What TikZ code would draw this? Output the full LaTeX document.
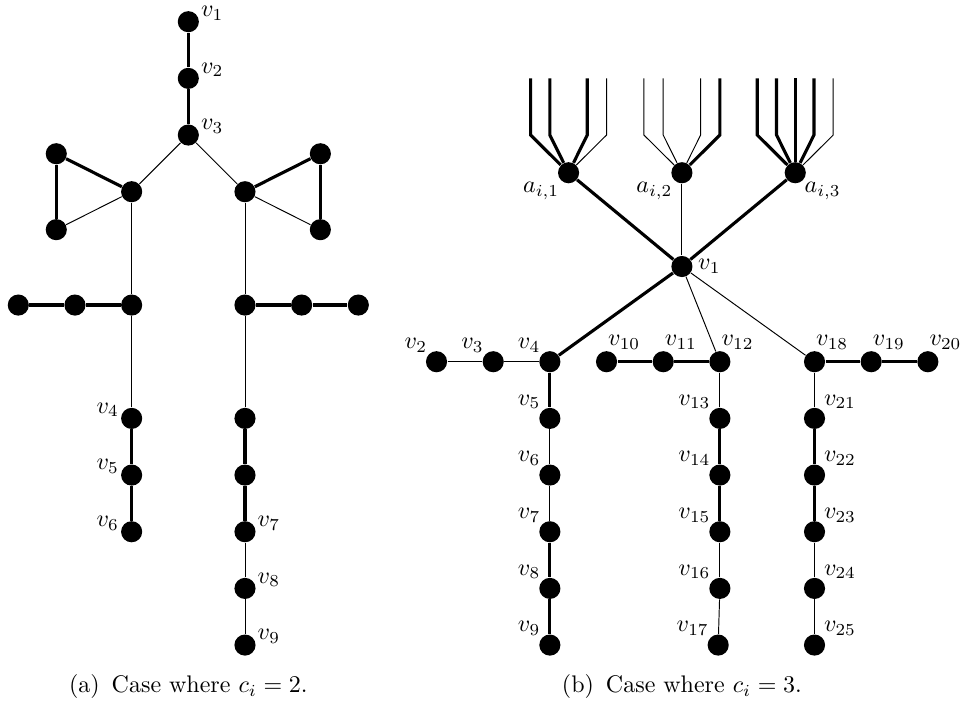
\documentclass[tikz,border=0pt]{standalone}
\usepackage{amsmath}
\usepackage{tikz}
\tikzset{
  vtx/.style={circle,fill=black,inner sep=0pt,minimum size=8.8pt},
  thk/.style={line width=1.3pt},
  thn/.style={line width=0.4pt},
  every label/.style={inner sep=0.5pt},
}

\begin{document}
\begin{tikzpicture}[x=0.83cm,y=0.83cm]
\useasboundingbox (-0.323,0.383) rectangle (16.635,-12.11);
% (a)
\node[vtx,label={[anchor=south west]east:$v_1$}] (av1) at (3,0) {};
\node[vtx,label={[anchor=south west]east:$v_2$}] (av2) at (3,-1) {};
\node[vtx,label={[anchor=south west]east:$v_3$}] (av3) at (3,-2) {};
\node[vtx] (acl) at (2,-3) {};
\node[vtx] (acr) at (4,-3) {};
\node[vtx] (atl1) at (0.67,-2.33) {};
\node[vtx] (atl2) at (0.67,-3.67) {};
\node[vtx] (atr1) at (5.33,-2.33) {};
\node[vtx] (atr2) at (5.33,-3.67) {};
\node[vtx] (ahl1) at (0,-5) {};
\node[vtx] (ahl2) at (1,-5) {};
\node[vtx] (ahl3) at (2,-5) {};
\node[vtx] (ahr1) at (4,-5) {};
\node[vtx] (ahr2) at (5,-5) {};
\node[vtx] (ahr3) at (6,-5) {};
\node[vtx,label={[anchor=south east]west:$v_4$}] (av4) at (2,-7) {};
\node[vtx,label={[anchor=south east]west:$v_5$}] (av5) at (2,-8) {};
\node[vtx,label={[anchor=south east]west:$v_6$}] (av6) at (2,-9) {};
\node[vtx] (akr1) at (4,-7) {};
\node[vtx] (akr2) at (4,-8) {};
\node[vtx,label={[anchor=south west]east:$v_7$}] (av7) at (4,-9) {};
\node[vtx,label={[anchor=south west]east:$v_8$}] (av8) at (4,-10) {};
\node[vtx,label={[anchor=south west]east:$v_9$}] (av9) at (4,-11) {};
\draw[thk] (av1) -- (av2);
\draw[thk] (av2) -- (av3);
\draw[thn] (av3) -- (acl);
\draw[thn] (av3) -- (acr);
\draw[thk] (acl) -- (atl1);
\draw[thk] (atl1) -- (atl2);
\draw[thn] (atl2) -- (acl);
\draw[thk] (acr) -- (atr1);
\draw[thk] (atr1) -- (atr2);
\draw[thn] (atr2) -- (acr);
\draw[thn] (acl) -- (ahl3);
\draw[thn] (acr) -- (ahr1);
\draw[thk] (ahl1) -- (ahl2);
\draw[thk] (ahl2) -- (ahl3);
\draw[thk] (ahr1) -- (ahr2);
\draw[thk] (ahr2) -- (ahr3);
\draw[thn] (ahl3) -- (av4);
\draw[thk] (av4) -- (av5);
\draw[thk] (av5) -- (av6);
\draw[thn] (ahr1) -- (akr1);
\draw[thk] (akr1) -- (akr2);
\draw[thk] (akr2) -- (av7);
\draw[thn] (av7) -- (av8);
\draw[thn] (av8) -- (av9);
\node (capa) at (3,-11.73) {(a)\enspace Case where $c_i = 2$.};

% (b)
\node[vtx,label=below left:$a_{i,1}$] (ai1) at (9.71,-2.665) {};
\node[vtx,label=below left:$a_{i,2}$] (ai2) at (11.71,-2.665) {};
\node[vtx,label=below right:$a_{i,3}$] (ai3) at (13.71,-2.665) {};
\node[vtx,label={[label distance=1.5pt]right:$v_1$}] (bv1) at (11.71,-4.32) {};
\node[vtx,label=above left:$v_2$] (bv2) at (7.38,-6) {};
\node[vtx,label=above left:$v_3$] (bv3) at (8.38,-6) {};
\node[vtx,label=above left:$v_4$] (bv4) at (9.38,-6) {};
\node[vtx,label=above left:$v_5$] (bv5) at (9.38,-7) {};
\node[vtx,label=above left:$v_6$] (bv6) at (9.38,-8) {};
\node[vtx,label=above left:$v_7$] (bv7) at (9.38,-9) {};
\node[vtx,label=above left:$v_8$] (bv8) at (9.38,-10) {};
\node[vtx,label=above left:$v_9$] (bv9) at (9.38,-11) {};
\node[vtx,label={[anchor=south west]north:$v_{10}$}] (bv10) at (10.38,-6) {};
\node[vtx,label={[anchor=south west]north:$v_{11}$}] (bv11) at (11.38,-6) {};
\node[vtx,label={[anchor=south west]north:$v_{12}$}] (bv12) at (12.38,-6) {};
\node[vtx,label=above left:$v_{13}$] (bv13) at (12.38,-7) {};
\node[vtx,label=above left:$v_{14}$] (bv14) at (12.38,-8) {};
\node[vtx,label=above left:$v_{15}$] (bv15) at (12.38,-9) {};
\node[vtx,label=above left:$v_{16}$] (bv16) at (12.38,-10) {};
\node[vtx,label=above left:$v_{17}$] (bv17) at (12.35,-11) {};
\node[vtx,label={[anchor=south west]north:$v_{18}$}] (bv18) at (14.05,-6) {};
\node[vtx,label={[anchor=south west]north:$v_{19}$}] (bv19) at (15.05,-6) {};
\node[vtx,label={[anchor=south west]north:$v_{20}$}] (bv20) at (16.05,-6) {};
\node[vtx,label=above right:$v_{21}$] (bv21) at (14.05,-7) {};
\node[vtx,label=above right:$v_{22}$] (bv22) at (14.05,-8) {};
\node[vtx,label=above right:$v_{23}$] (bv23) at (14.05,-9) {};
\node[vtx,label=above right:$v_{24}$] (bv24) at (14.05,-10) {};
\node[vtx,label=above right:$v_{25}$] (bv25) at (14.05,-11) {};
% fans above the a_{i,j}
\draw[thk] (ai1) -- ++(-0.67,0.665) -- ++(0,1);
\draw[thk] (ai1) -- ++(-0.33,0.665) -- ++(0,1);
\draw[thk] (ai1) -- ++(0.33,0.665) -- ++(0,1);
\draw[thn] (ai1) -- ++(0.67,0.665) -- ++(0,1);
\draw[thn] (ai2) -- ++(-0.67,0.665) -- ++(0,1);
\draw[thn] (ai2) -- ++(-0.33,0.665) -- ++(0,1);
\draw[thn] (ai2) -- ++(0.33,0.665) -- ++(0,1);
\draw[thk] (ai2) -- ++(0.67,0.665) -- ++(0,1);
\draw[thk] (ai3) -- ++(-0.67,0.665) -- ++(0,1);
\draw[thk] (ai3) -- ++(-0.33,0.665) -- ++(0,1);
\draw[thk] (ai3) -- ++(0,1.665);
\draw[thk] (ai3) -- ++(0.33,0.665) -- ++(0,1);
\draw[thn] (ai3) -- ++(0.67,0.665) -- ++(0,1);
\draw[thk] (ai1) -- (bv1);
\draw[thn] (ai2) -- (bv1);
\draw[thk] (ai3) -- (bv1);
\draw[thk] (bv1) -- (bv4);
\draw[thn] (bv1) -- (bv12);
\draw[thn] (bv1) -- (bv18);
\draw[thn] (bv2) -- (bv3);
\draw[thn] (bv3) -- (bv4);
\draw[thk] (bv4) -- (bv5);
\draw[thn] (bv5) -- (bv6);
\draw[thn] (bv6) -- (bv7);
\draw[thk] (bv7) -- (bv8);
\draw[thk] (bv8) -- (bv9);
\draw[thk] (bv10) -- (bv11);
\draw[thk] (bv11) -- (bv12);
\draw[thn] (bv12) -- (bv13);
\draw[thk] (bv13) -- (bv14);
\draw[thk] (bv14) -- (bv15);
\draw[thn] (bv15) -- (bv16);
\draw[thn] (bv16) -- (bv17);
\draw[thk] (bv18) -- (bv19);
\draw[thk] (bv19) -- (bv20);
\draw[thn] (bv18) -- (bv21);
\draw[thk] (bv21) -- (bv22);
\draw[thk] (bv22) -- (bv23);
\draw[thn] (bv23) -- (bv24);
\draw[thn] (bv24) -- (bv25);
\node (capb) at (11.71,-11.73) {(b)\enspace Case where $c_i = 3$.};
\end{tikzpicture}
\end{document}
